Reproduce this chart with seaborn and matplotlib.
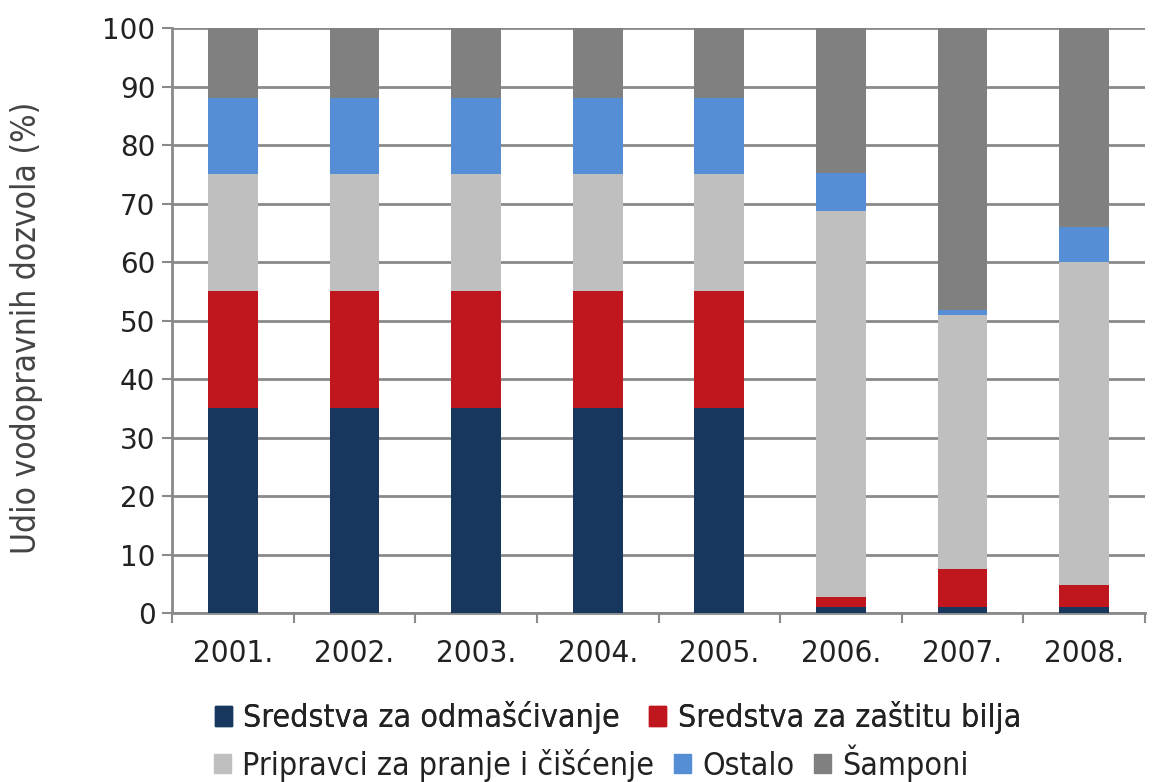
import matplotlib
matplotlib.use("Agg")
import matplotlib.pyplot as plt
import seaborn as sns
import numpy as np
import pandas as pd
from matplotlib.patches import Patch
from matplotlib import font_manager as fm

years = ["2001.", "2002.", "2003.", "2004.", "2005.", "2006.", "2007.", "2008."]
odmascivanje = [35, 35, 35, 35, 35, 1.0, 1.0, 1.0]
zastita_bilja = [20, 20, 20, 20, 20, 1.7, 6.6, 3.8]
pripravci = [20, 20, 20, 20, 20, 66.0, 43.3, 55.2]
ostalo = [13, 13, 13, 13, 13, 6.6, 1.0, 6.0]
samponi = [12, 12, 12, 12, 12, 24.7, 48.1, 34.0]

series_names = ["Sredstva za odmašćivanje", "Sredstva za zaštitu bilja",
                "Pripravci za pranje i čišćenje", "Ostalo", "Šamponi"]
series_vals = [odmascivanje, zastita_bilja, pripravci, ostalo, samponi]
colors = ["#17375E", "#C0171F", "#BFBFBF", "#558ED5", "#808080"]

sns.set_theme(style="white")
plt.rcParams["font.family"] = ["DejaVu Sans"]

fig = plt.figure(figsize=(11.57, 7.82), dpi=100)
ax = fig.add_axes([0.1487, 0.216, 0.8409, 0.748])

bottom = np.zeros(len(years))
for name, vals, col in zip(series_names, series_vals, colors):
    df = pd.DataFrame({"year": years, "val": vals})
    sns.barplot(data=df, x="year", y="val", color=col, width=0.41,
                bottom=bottom, ax=ax, saturation=1, zorder=3, linewidth=0)
    bottom = bottom + np.array(vals)

ax.set_ylim(0, 100)
ax.set_xlim(-0.5, 7.5)
ax.set_yticks(range(0, 101, 10))
ax.yaxis.grid(True, color="#8a8a8a", linewidth=2, zorder=0)
ax.set_axisbelow(True)
for s in ["top", "right"]:
    ax.spines[s].set_visible(False)
for s in ["left", "bottom"]:
    ax.spines[s].set_color("#8a8a8a")
    ax.spines[s].set_linewidth(2)
ax.tick_params(axis="y", which="major", length=7, width=1.5, color="#8a8a8a",
               labelsize=20, labelcolor="#222222", pad=5, direction="out", left=True)
ax.set_xticks(range(len(years)))
ax.set_xticklabels(years)
ax.set_xticks(np.arange(-0.5, 8, 1), minor=True)
ax.tick_params(axis="x", which="major", length=0, labelsize=22.5, labelcolor="#222222", pad=19)
ax.tick_params(axis="x", which="minor", length=7, width=1.5, color="#8a8a8a", bottom=True, direction="out")
for t in ax.get_xticklabels():
    t.set_fontstretch("condensed")
ax.set_xlabel("")
ax.set_ylabel("Udio vodopravnih dozvola (%)", fontsize=24, color="#444444",
              fontstretch="condensed")
ax.yaxis.set_label_coords(-0.133, 0.488)

h1 = [Patch(color=colors[0]), Patch(color=colors[1])]
h2 = [Patch(color=colors[2]), Patch(color=colors[3]), Patch(color=colors[4])]
prop = fm.FontProperties(family="DejaVu Sans", stretch="condensed", size=23)
kw = dict(frameon=False, prop=prop, handlelength=0.55, handleheight=0.55,
          handletextpad=0.35, labelcolor="#222222")
leg1 = fig.legend(h1, series_names[:2], loc="center", bbox_to_anchor=(0.534, 0.082),
                  ncol=2, columnspacing=0.9, **kw)
leg2 = fig.legend(h2, series_names[2:], loc="center", bbox_to_anchor=(0.511, 0.024),
                  ncol=3, columnspacing=0.6, **kw)
fig.add_artist(leg1)

fig.savefig("out.png", dpi=100)
